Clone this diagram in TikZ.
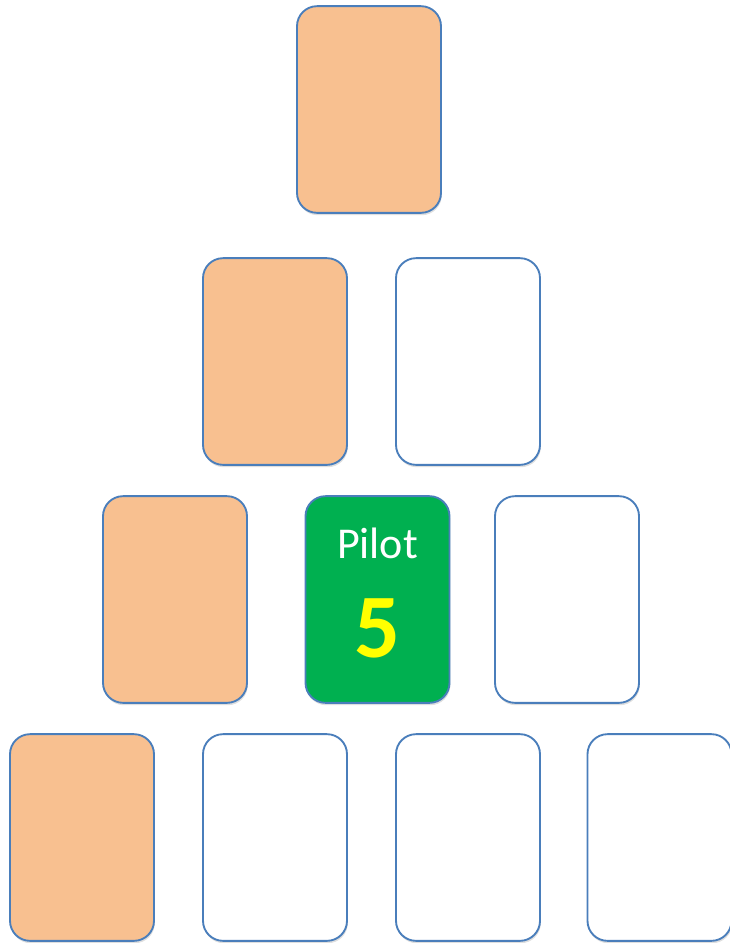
\documentclass[tikz,border=0pt]{standalone}
\usepackage{fontspec}
\setmainfont{Carlito}[BoldFont={Carlito Bold}, ItalicFont={Carlito Italic}]
\newfontfamily\numfont{Carlito Bold}
\usetikzlibrary{shadows}
\definecolor{cardorange}{HTML}{F8C090}
\definecolor{pilotgreen}{HTML}{00B050}
\definecolor{cardblue}{HTML}{4A7EBB}
\definecolor{numyellow}{HTML}{FFFF00}

\begin{document}
\begin{tikzpicture}[x=0.75pt, y=-0.75pt,
		card/.style={draw=cardblue, line width=1.4pt, rounded corners=15pt,
				minimum width=108pt, minimum height=155pt, inner sep=0pt,
				fill=white, drop shadow={opacity=0.25, shadow xshift=0.6pt, shadow yshift=-1.8pt}},
		done/.style={card, fill=cardorange},
		pilot/.style={card, fill=pilotgreen}]

		\useasboundingbox (0, 0) rectangle (730, 943);

		% Row 1
		\node[done] (R1a) at (369, 109.5) {};

		% Row 2
		\node[done] (R2a) at (275, 361.5) {};
		\node[card] (R2b) at (468, 361.5) {};

		% Row 3
		\node[done] (R3a) at (175, 599.5) {};
		\node[pilot] (R3b) at (377.5, 599.5) {};
		\node[card] (R3c) at (567, 599.5) {};

		% Row 4
		\node[done] (R4a) at (82, 837.5) {};
		\node[card] (R4b) at (275, 837.5) {};
		\node[card] (R4c) at (468, 837.5) {};
		\node[card] (R4d) at (659.5, 837.5) {};

		% Pilot label
		\node[anchor=base, text=white, font=\fontsize{33}{36}\selectfont] (Plabel) at (377.5, 558) {Pilot};
		\node[anchor=base, text=numyellow, font=\numfont\fontsize{68}{70}\selectfont] (Pnum) at (377.5, 657) {5};

	\end{tikzpicture}
\end{document}
